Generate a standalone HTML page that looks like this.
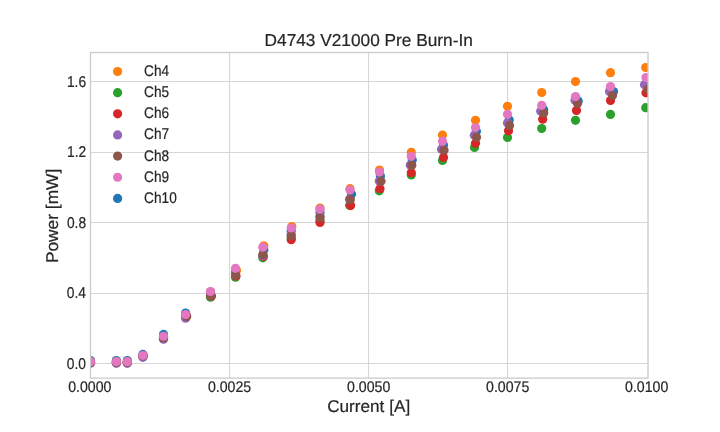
<!DOCTYPE html><html><head><meta charset="utf-8"><style>html,body{margin:0;padding:0;background:#fff;width:720px;height:432px;overflow:hidden}svg{display:block;will-change:transform}text{font-family:"Liberation Sans",sans-serif;text-rendering:geometricPrecision}</style></head><body>
<svg width="720" height="432" viewBox="0 0 720 432">
<rect width="720" height="432" fill="#fff"/>
<defs><clipPath id="ax"><rect x="90.50" y="52.50" width="557.50" height="325.60"/></clipPath></defs>
<line x1="229.50" y1="52.50" x2="229.50" y2="378.10" stroke="#d6d6d6" stroke-width="1.1"/>
<line x1="368.50" y1="52.50" x2="368.50" y2="378.10" stroke="#d6d6d6" stroke-width="1.1"/>
<line x1="507.50" y1="52.50" x2="507.50" y2="378.10" stroke="#d6d6d6" stroke-width="1.1"/>
<line x1="90.50" y1="363.50" x2="648.00" y2="363.50" stroke="#d6d6d6" stroke-width="1.1"/>
<line x1="90.50" y1="293.50" x2="648.00" y2="293.50" stroke="#d6d6d6" stroke-width="1.1"/>
<line x1="90.50" y1="222.50" x2="648.00" y2="222.50" stroke="#d6d6d6" stroke-width="1.1"/>
<line x1="90.50" y1="152.50" x2="648.00" y2="152.50" stroke="#d6d6d6" stroke-width="1.1"/>
<line x1="90.50" y1="81.50" x2="648.00" y2="81.50" stroke="#d6d6d6" stroke-width="1.1"/>
<g clip-path="url(#ax)">
<circle cx="90.50" cy="360.60" r="4.60" fill="#1f77b4"/>
<circle cx="116.40" cy="360.60" r="4.60" fill="#1f77b4"/>
<circle cx="127.30" cy="360.60" r="4.60" fill="#1f77b4"/>
<circle cx="142.90" cy="354.40" r="4.60" fill="#1f77b4"/>
<circle cx="163.50" cy="334.40" r="4.60" fill="#1f77b4"/>
<circle cx="185.60" cy="313.00" r="4.60" fill="#1f77b4"/>
<circle cx="210.50" cy="292.00" r="4.60" fill="#1f77b4"/>
<circle cx="235.50" cy="272.00" r="4.60" fill="#1f77b4"/>
<circle cx="263.80" cy="250.00" r="4.60" fill="#1f77b4"/>
<circle cx="291.20" cy="230.80" r="4.60" fill="#1f77b4"/>
<circle cx="320.00" cy="212.50" r="4.60" fill="#1f77b4"/>
<circle cx="351.50" cy="194.20" r="4.60" fill="#1f77b4"/>
<circle cx="380.40" cy="176.00" r="4.60" fill="#1f77b4"/>
<circle cx="412.30" cy="160.00" r="4.60" fill="#1f77b4"/>
<circle cx="443.50" cy="145.00" r="4.60" fill="#1f77b4"/>
<circle cx="476.40" cy="131.30" r="4.60" fill="#1f77b4"/>
<circle cx="509.20" cy="120.00" r="4.60" fill="#1f77b4"/>
<circle cx="543.70" cy="109.70" r="4.60" fill="#1f77b4"/>
<circle cx="578.20" cy="101.10" r="4.60" fill="#1f77b4"/>
<circle cx="613.50" cy="91.50" r="4.60" fill="#1f77b4"/>
<circle cx="648.00" cy="86.50" r="4.60" fill="#1f77b4"/>
<circle cx="90.50" cy="361.70" r="4.60" fill="#ff7f0e"/>
<circle cx="116.40" cy="361.70" r="4.60" fill="#ff7f0e"/>
<circle cx="127.30" cy="361.70" r="4.60" fill="#ff7f0e"/>
<circle cx="143.40" cy="355.50" r="4.60" fill="#ff7f0e"/>
<circle cx="163.50" cy="336.80" r="4.60" fill="#ff7f0e"/>
<circle cx="185.60" cy="315.20" r="4.60" fill="#ff7f0e"/>
<circle cx="210.50" cy="292.00" r="4.60" fill="#ff7f0e"/>
<circle cx="236.50" cy="270.40" r="4.60" fill="#ff7f0e"/>
<circle cx="263.80" cy="245.80" r="4.60" fill="#ff7f0e"/>
<circle cx="291.80" cy="226.60" r="4.60" fill="#ff7f0e"/>
<circle cx="320.00" cy="208.00" r="4.60" fill="#ff7f0e"/>
<circle cx="350.00" cy="188.70" r="4.60" fill="#ff7f0e"/>
<circle cx="379.50" cy="170.00" r="4.60" fill="#ff7f0e"/>
<circle cx="411.30" cy="152.30" r="4.60" fill="#ff7f0e"/>
<circle cx="442.50" cy="135.00" r="4.60" fill="#ff7f0e"/>
<circle cx="475.50" cy="120.30" r="4.60" fill="#ff7f0e"/>
<circle cx="507.50" cy="106.30" r="4.60" fill="#ff7f0e"/>
<circle cx="541.70" cy="92.50" r="4.60" fill="#ff7f0e"/>
<circle cx="575.50" cy="81.60" r="4.60" fill="#ff7f0e"/>
<circle cx="610.50" cy="72.70" r="4.60" fill="#ff7f0e"/>
<circle cx="645.70" cy="67.50" r="4.60" fill="#ff7f0e"/>
<circle cx="90.50" cy="362.20" r="4.60" fill="#2ca02c"/>
<circle cx="116.40" cy="362.20" r="4.60" fill="#2ca02c"/>
<circle cx="127.30" cy="362.20" r="4.60" fill="#2ca02c"/>
<circle cx="142.90" cy="356.20" r="4.60" fill="#2ca02c"/>
<circle cx="163.50" cy="338.00" r="4.60" fill="#2ca02c"/>
<circle cx="185.60" cy="316.50" r="4.60" fill="#2ca02c"/>
<circle cx="210.50" cy="297.20" r="4.60" fill="#2ca02c"/>
<circle cx="235.50" cy="277.20" r="4.60" fill="#2ca02c"/>
<circle cx="262.80" cy="257.80" r="4.60" fill="#2ca02c"/>
<circle cx="291.20" cy="238.00" r="4.60" fill="#2ca02c"/>
<circle cx="320.00" cy="220.80" r="4.60" fill="#2ca02c"/>
<circle cx="349.60" cy="205.30" r="4.60" fill="#2ca02c"/>
<circle cx="379.30" cy="190.80" r="4.60" fill="#2ca02c"/>
<circle cx="411.30" cy="174.90" r="4.60" fill="#2ca02c"/>
<circle cx="442.50" cy="160.50" r="4.60" fill="#2ca02c"/>
<circle cx="474.50" cy="147.50" r="4.60" fill="#2ca02c"/>
<circle cx="507.50" cy="137.50" r="4.60" fill="#2ca02c"/>
<circle cx="541.70" cy="128.50" r="4.60" fill="#2ca02c"/>
<circle cx="575.50" cy="120.30" r="4.60" fill="#2ca02c"/>
<circle cx="610.50" cy="114.40" r="4.60" fill="#2ca02c"/>
<circle cx="645.70" cy="107.70" r="4.60" fill="#2ca02c"/>
<circle cx="90.50" cy="362.20" r="4.60" fill="#d62728"/>
<circle cx="116.40" cy="362.20" r="4.60" fill="#d62728"/>
<circle cx="127.30" cy="362.20" r="4.60" fill="#d62728"/>
<circle cx="142.90" cy="356.20" r="4.60" fill="#d62728"/>
<circle cx="163.50" cy="338.00" r="4.60" fill="#d62728"/>
<circle cx="186.60" cy="316.00" r="4.60" fill="#d62728"/>
<circle cx="211.50" cy="296.00" r="4.60" fill="#d62728"/>
<circle cx="236.00" cy="276.00" r="4.60" fill="#d62728"/>
<circle cx="263.40" cy="256.60" r="4.60" fill="#d62728"/>
<circle cx="291.20" cy="239.70" r="4.60" fill="#d62728"/>
<circle cx="320.00" cy="222.50" r="4.60" fill="#d62728"/>
<circle cx="350.60" cy="205.60" r="4.60" fill="#d62728"/>
<circle cx="380.00" cy="188.70" r="4.60" fill="#d62728"/>
<circle cx="411.30" cy="172.80" r="4.60" fill="#d62728"/>
<circle cx="443.50" cy="157.50" r="4.60" fill="#d62728"/>
<circle cx="475.50" cy="143.30" r="4.60" fill="#d62728"/>
<circle cx="508.50" cy="130.80" r="4.60" fill="#d62728"/>
<circle cx="542.70" cy="119.20" r="4.60" fill="#d62728"/>
<circle cx="576.50" cy="110.60" r="4.60" fill="#d62728"/>
<circle cx="610.50" cy="100.50" r="4.60" fill="#d62728"/>
<circle cx="646.00" cy="92.80" r="4.60" fill="#d62728"/>
<circle cx="90.50" cy="363.30" r="4.60" fill="#9467bd"/>
<circle cx="116.40" cy="363.30" r="4.60" fill="#9467bd"/>
<circle cx="127.30" cy="363.30" r="4.60" fill="#9467bd"/>
<circle cx="142.90" cy="357.30" r="4.60" fill="#9467bd"/>
<circle cx="163.50" cy="339.25" r="4.60" fill="#9467bd"/>
<circle cx="185.60" cy="318.25" r="4.60" fill="#9467bd"/>
<circle cx="210.50" cy="295.00" r="4.60" fill="#9467bd"/>
<circle cx="235.50" cy="273.00" r="4.60" fill="#9467bd"/>
<circle cx="262.80" cy="255.80" r="4.60" fill="#9467bd"/>
<circle cx="291.20" cy="234.70" r="4.60" fill="#9467bd"/>
<circle cx="320.00" cy="216.30" r="4.60" fill="#9467bd"/>
<circle cx="349.50" cy="199.20" r="4.60" fill="#9467bd"/>
<circle cx="379.30" cy="181.00" r="4.60" fill="#9467bd"/>
<circle cx="410.30" cy="165.00" r="4.60" fill="#9467bd"/>
<circle cx="441.50" cy="149.20" r="4.60" fill="#9467bd"/>
<circle cx="474.30" cy="135.30" r="4.60" fill="#9467bd"/>
<circle cx="507.50" cy="123.10" r="4.60" fill="#9467bd"/>
<circle cx="540.70" cy="111.30" r="4.60" fill="#9467bd"/>
<circle cx="575.00" cy="100.30" r="4.60" fill="#9467bd"/>
<circle cx="609.50" cy="91.50" r="4.60" fill="#9467bd"/>
<circle cx="644.50" cy="84.70" r="4.60" fill="#9467bd"/>
<circle cx="90.50" cy="362.40" r="4.60" fill="#8c564b"/>
<circle cx="116.40" cy="362.40" r="4.60" fill="#8c564b"/>
<circle cx="127.30" cy="362.40" r="4.60" fill="#8c564b"/>
<circle cx="142.90" cy="356.00" r="4.60" fill="#8c564b"/>
<circle cx="163.50" cy="338.00" r="4.60" fill="#8c564b"/>
<circle cx="186.60" cy="316.50" r="4.60" fill="#8c564b"/>
<circle cx="210.50" cy="296.00" r="4.60" fill="#8c564b"/>
<circle cx="235.50" cy="275.60" r="4.60" fill="#8c564b"/>
<circle cx="262.80" cy="254.70" r="4.60" fill="#8c564b"/>
<circle cx="291.20" cy="235.80" r="4.60" fill="#8c564b"/>
<circle cx="320.00" cy="217.50" r="4.60" fill="#8c564b"/>
<circle cx="350.30" cy="199.40" r="4.60" fill="#8c564b"/>
<circle cx="381.00" cy="181.20" r="4.60" fill="#8c564b"/>
<circle cx="411.80" cy="165.30" r="4.60" fill="#8c564b"/>
<circle cx="444.00" cy="150.30" r="4.60" fill="#8c564b"/>
<circle cx="476.50" cy="137.20" r="4.60" fill="#8c564b"/>
<circle cx="509.50" cy="125.40" r="4.60" fill="#8c564b"/>
<circle cx="543.70" cy="113.00" r="4.60" fill="#8c564b"/>
<circle cx="577.50" cy="103.60" r="4.60" fill="#8c564b"/>
<circle cx="612.50" cy="95.50" r="4.60" fill="#8c564b"/>
<circle cx="648.00" cy="89.20" r="4.60" fill="#8c564b"/>
<circle cx="90.50" cy="361.70" r="4.60" fill="#e377c2"/>
<circle cx="116.40" cy="361.70" r="4.60" fill="#e377c2"/>
<circle cx="127.30" cy="361.70" r="4.60" fill="#e377c2"/>
<circle cx="142.90" cy="355.50" r="4.60" fill="#e377c2"/>
<circle cx="163.50" cy="336.25" r="4.60" fill="#e377c2"/>
<circle cx="185.60" cy="314.50" r="4.60" fill="#e377c2"/>
<circle cx="210.50" cy="291.50" r="4.60" fill="#e377c2"/>
<circle cx="235.50" cy="268.30" r="4.60" fill="#e377c2"/>
<circle cx="262.80" cy="247.20" r="4.60" fill="#e377c2"/>
<circle cx="291.20" cy="228.00" r="4.60" fill="#e377c2"/>
<circle cx="320.00" cy="209.20" r="4.60" fill="#e377c2"/>
<circle cx="350.00" cy="190.00" r="4.60" fill="#e377c2"/>
<circle cx="379.50" cy="172.00" r="4.60" fill="#e377c2"/>
<circle cx="411.30" cy="156.30" r="4.60" fill="#e377c2"/>
<circle cx="442.50" cy="141.20" r="4.60" fill="#e377c2"/>
<circle cx="475.50" cy="127.50" r="4.60" fill="#e377c2"/>
<circle cx="507.50" cy="114.30" r="4.60" fill="#e377c2"/>
<circle cx="541.70" cy="105.30" r="4.60" fill="#e377c2"/>
<circle cx="575.50" cy="96.60" r="4.60" fill="#e377c2"/>
<circle cx="610.50" cy="86.50" r="4.60" fill="#e377c2"/>
<circle cx="646.00" cy="77.60" r="4.60" fill="#e377c2"/>
</g>
<rect x="90.50" y="52.50" width="557.50" height="325.60" fill="none" stroke="#cacaca" stroke-width="1.3"/>
<g fill="#262626" stroke="#262626" stroke-width="0.2">
<text transform="matrix(0.9266 0 0 1.0083 68.147 391.800)" font-size="15.28">0.0000</text>
<text transform="matrix(0.9266 0 0 1.0083 207.918 391.800)" font-size="15.28">0.0025</text>
<text transform="matrix(0.9266 0 0 1.0083 347.047 391.800)" font-size="15.28">0.0050</text>
<text transform="matrix(0.9266 0 0 1.0083 486.068 391.800)" font-size="15.28">0.0075</text>
<text transform="matrix(0.9266 0 0 1.0083 625.047 391.800)" font-size="15.28">0.0100</text>
<text transform="matrix(0.9029 0 0 1.0274 66.861 368.900)" font-size="15.28">0.0</text>
<text transform="matrix(0.9029 0 0 1.0274 66.726 297.800)" font-size="15.28">0.4</text>
<text transform="matrix(0.9029 0 0 1.0274 66.922 227.900)" font-size="15.28">0.8</text>
<text transform="matrix(0.9029 0 0 1.0274 67.016 156.800)" font-size="15.28">1.2</text>
<text transform="matrix(0.9029 0 0 1.0274 66.928 86.800)" font-size="15.28">1.6</text>
<text transform="matrix(1.0365 0 0 1.0376 264.583 45.900)" font-size="16.67">D4743 V21000 Pre Burn-In</text>
<text transform="matrix(1.0310 0 0 1.0202 327.127 411.800)" font-size="16.67">Current [A]</text>
<text transform="matrix(0 -1.0407 1.0202 0 57.900 263.123)" font-size="16.67">Power [mW]</text>
<text transform="matrix(0.8934 0 0 1.0131 144.107 75.850)" font-size="15.28">Ch4</text>
<text transform="matrix(0.8934 0 0 1.0131 144.107 97.050)" font-size="15.28">Ch5</text>
<text transform="matrix(0.8934 0 0 1.0131 144.107 118.250)" font-size="15.28">Ch6</text>
<text transform="matrix(0.8934 0 0 1.0131 144.107 139.450)" font-size="15.28">Ch7</text>
<text transform="matrix(0.8934 0 0 1.0131 144.107 160.650)" font-size="15.28">Ch8</text>
<text transform="matrix(0.8934 0 0 1.0131 144.107 181.850)" font-size="15.28">Ch9</text>
<text transform="matrix(0.8934 0 0 1.0131 144.107 203.050)" font-size="15.28">Ch10</text>
</g>
<circle cx="117.6" cy="71.50" r="4.60" fill="#ff7f0e"/>
<circle cx="117.6" cy="92.65" r="4.60" fill="#2ca02c"/>
<circle cx="117.6" cy="113.80" r="4.60" fill="#d62728"/>
<circle cx="117.6" cy="134.95" r="4.60" fill="#9467bd"/>
<circle cx="117.6" cy="156.10" r="4.60" fill="#8c564b"/>
<circle cx="117.6" cy="177.25" r="4.60" fill="#e377c2"/>
<circle cx="117.6" cy="198.40" r="4.60" fill="#1f77b4"/>
</svg></body></html>
